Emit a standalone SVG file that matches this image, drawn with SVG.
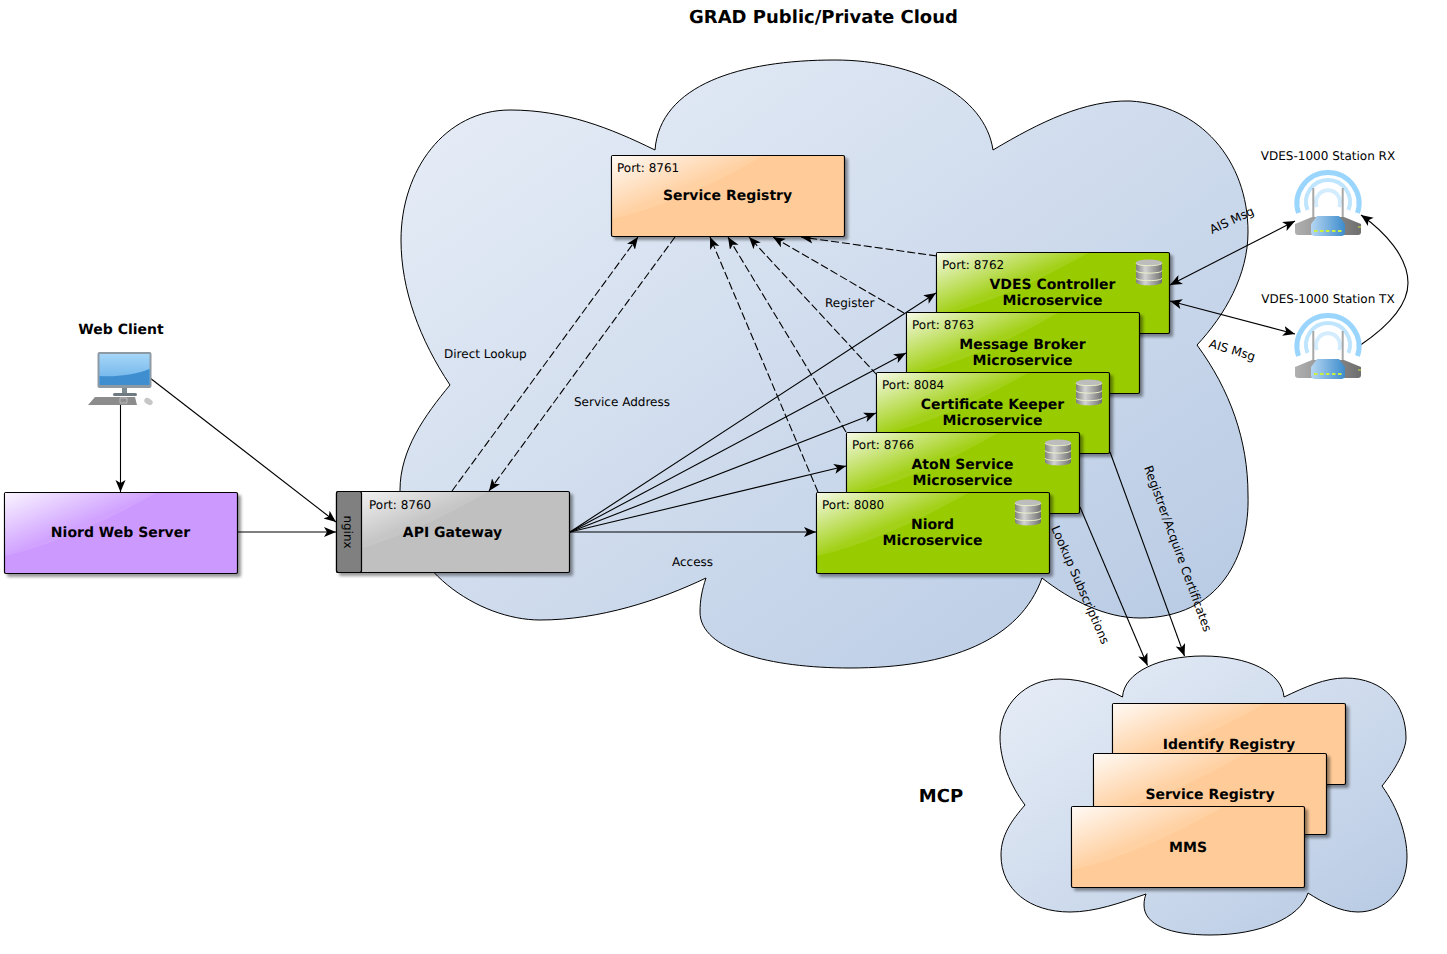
<svg xmlns="http://www.w3.org/2000/svg" width="1447" height="954" viewBox="0 0 1447 954">
<style>
text{font-family:"DejaVu Sans","Liberation Sans",sans-serif;fill:#000;text-rendering:geometricPrecision}
.t{font-size:12px}
.b{font-size:14px;font-weight:bold;text-anchor:middle}
.m{text-anchor:middle}
.box{stroke:#000;stroke-width:1.2}
.cloud{stroke:#000;stroke-width:1;fill:url(#cg)}
.c{fill:none;stroke:#000;stroke-width:1.100;marker-end:url(#a)}
.d{stroke-dasharray:8 3}
.glass{fill:url(#gl)}
</style>
<defs>
<linearGradient id="cg" x1="0" y1="0" x2="1" y2="1"><stop offset="0" stop-color="#e8eef7"/><stop offset="1" stop-color="#b6c9e3"/></linearGradient>
<linearGradient id="gl" x1="0" y1="0" x2="0.5" y2="0.5"><stop offset="0" stop-color="#fff" stop-opacity=".9"/><stop offset="1" stop-color="#fff" stop-opacity=".1"/></linearGradient>
<linearGradient id="dbg" x1="0" y1="0" x2="1" y2="0"><stop offset="0" stop-color="#7f7f7f"/><stop offset=".35" stop-color="#d4d4d4"/><stop offset="1" stop-color="#6f6f6f"/></linearGradient>
<linearGradient id="scr" x1="0" y1="0" x2="0" y2="1"><stop offset="0" stop-color="#a5d6f8"/><stop offset="1" stop-color="#67afe8"/></linearGradient>
<linearGradient id="rb" x1="0" y1="0" x2="1" y2="0"><stop offset="0" stop-color="#b5d6f2"/><stop offset="1" stop-color="#3d8ccc"/></linearGradient>
<linearGradient id="rg" x1="0" y1="0" x2="1" y2="0"><stop offset="0" stop-color="#b0b0b0"/><stop offset="1" stop-color="#6e6e6e"/></linearGradient>
<filter id="sh" x="-5%" y="-5%" width="112%" height="118%"><feDropShadow dx="3" dy="3" stdDeviation="1.600" flood-color="#000" flood-opacity=".4"/></filter>
<marker id="a" markerUnits="userSpaceOnUse" markerWidth="14" markerHeight="12" refX="12" refY="5" orient="auto"><path d="M0,0L12,5L0,10L3,5Z" fill="#000"/></marker>
<marker id="as" markerUnits="userSpaceOnUse" markerWidth="14" markerHeight="12" refX="0" refY="5" orient="auto"><path d="M12,0L0,5L12,10L9,5Z" fill="#000"/></marker>
<g id="db">
<path d="M0,3.500C0,0 26,0 26,3.500V23C26,27.500 0,27.500 0,23Z" fill="url(#dbg)"/>
<ellipse cx="13" cy="3.500" rx="13" ry="3" fill="#bdbdbd"/>
<path d="M0,4C0,7.500 26,7.500 26,4M0,11.500C0,15 26,15 26,11.500M0,19C0,22.500 26,22.500 26,19" fill="none" stroke="#eef2c8" stroke-width="1"/>
</g>
<g id="router">
<path d="M1298.500,213A31,31 0 1 1 1357.500,213" fill="none" stroke="#9ad5fd" stroke-width="5"/>
<path d="M1307.500,210A22,22 0 1 1 1348.500,210" fill="none" stroke="#bfe5fe" stroke-width="4"/>
<path d="M1317,207A12,12 0 1 1 1339,207" fill="none" stroke="#d3edfe" stroke-width="4"/>
<path d="M1313.300,188V220M1342.700,188V220" stroke="#a8a8a8" stroke-width="2" fill="none"/>
<path d="M1295,224L1312,217H1344L1361,224V232Q1361,235 1358,235H1298Q1295,235 1295,232Z" fill="url(#rg)"/>
<path d="M1311,224L1317,216H1339L1345,224V232Q1345,236 1341,236H1315Q1311,236 1311,232Z" fill="url(#rb)"/>
<path d="M1314,231H1343" stroke="#c9f03c" stroke-width="2" stroke-dasharray="3.500 2.500"/>
<path d="M1358,227H1361" stroke="#c9f03c" stroke-width="1"/>
</g>
</defs>
<g id="cloud-main"><path class="cloud" d="M655,150C660,85 740,60 835,60C915,60 985,95 993,150C1040,122 1085,100 1130,101C1200,105 1248,160 1248,232C1248,275 1225,315 1197,345C1230,390 1248,440 1248,495C1250,555 1220,618 1140,618C1105,618 1070,600 1042,578C1020,640 950,668 850,668C770,668 700,650 700,612C700,600 702,590 706,578C660,600 600,620 540,620C480,620 400,570 400,490C400,450 425,415 450,385C420,340 401,290 401,240C401,170 445,110 510,110C565,110 610,128 655,150Z"/></g>
<g id="cloud-mcp"><path class="cloud" d="M1122.500,697C1124,672 1160,656 1203,656C1248,656 1282,672 1284,697C1305,687 1325,678 1345,678C1385,678 1406,705 1406,738C1406,750 1395,770 1382,786C1398,808 1407,835 1407,857C1407,890 1385,912 1358,912C1340,912 1322,902 1308,893C1300,918 1260,935 1210,935C1170,935 1144,925 1144,905C1144,900 1145,897 1146,894C1120,903 1095,912 1070,912C1030,912 1001,890 1001,855C1001,835 1012,820 1025,805C1010,785 1000,760 1000,737C1000,705 1025,679 1060,679C1085,679 1105,688 1122.500,697Z"/></g>
<g id="connectors">
<path class="c" d="M120.500,405V492"/>
<path class="c" d="M150,378L336,522"/>
<path class="c" d="M238,532H336"/>
<path class="c" d="M570,532L936,293"/>
<path class="c" d="M570,532L906,353"/>
<path class="c" d="M570,532L876,413"/>
<path class="c" d="M570,532L846,466"/>
<path class="c" d="M570,532H816"/>
<path class="c d" d="M452,491L638,237"/>
<path class="c d" d="M675,237L489,491"/>
<path class="c d" d="M818,492L710,237"/>
<path class="c d" d="M846,432L728,237"/>
<path class="c d" d="M877,375L749,237"/>
<path class="c d" d="M904,313L773,237"/>
<path class="c d" d="M937,256L801,237"/>
<path class="c" d="M1080,507L1147.500,665.500"/>
<path class="c" d="M1110,452L1184.500,656"/>
<path class="c" style="marker-start:url(#as)" d="M1170,285L1295,221"/>
<path class="c" style="marker-start:url(#as)" d="M1170,301L1295,334"/>
<path class="c" d="M1360.500,345C1390,325 1408,305 1408,283C1408,257 1385,232 1361,215"/>
</g>
<g id="labels">
<text class="t" x="444" y="358">Direct Lookup</text>
<text class="t" x="574" y="406">Service Address</text>
<text class="t" x="825" y="307">Register</text>
<text class="t" x="672" y="566">Access</text>
<text class="t m" transform="translate(1233.500,224) rotate(-25)">AIS Msg</text>
<text class="t m" transform="translate(1231,354) rotate(17)">AIS Msg</text>
<text class="t m" transform="translate(1076.500,586.500) rotate(66.500)">Lookup Subscriptions</text>
<text class="t m" transform="translate(1174,550) rotate(70)">Registrer/Acquire Certificates</text>
<text x="823.500" y="23" style="font-size:18px;font-weight:bold;text-anchor:middle">GRAD Public/Private Cloud</text>
<text x="941" y="802" style="font-size:18px;font-weight:bold;text-anchor:middle">MCP</text>
</g>
<g id="service-registry"><rect class="box" filter="url(#sh)" x="611.500" y="155.500" width="233" height="81" rx="1.500" fill="#ffcc99"/><path class="glass" d="M612,156H763C720,180 670,205 612,219Z"/><text class="t" x="617" y="172">Port: 8761</text><text class="b" x="727.500" y="200">Service Registry</text></g>
<g id="vdes-controller"><rect class="box" filter="url(#sh)" x="936.500" y="252.500" width="233" height="81" rx="1.500" fill="#99cc00"/><path class="glass" d="M937,253H1088C1045,277 995,302 937,316Z"/><text class="t" x="942" y="269">Port: 8762</text><text class="b" x="1052.500" y="289">VDES Controller</text><text class="b" x="1052.500" y="305">Microservice</text><use href="#db" x="1136" y="259"/></g>
<g id="message-broker"><rect class="box" filter="url(#sh)" x="906.500" y="312.500" width="233" height="81" rx="1.500" fill="#99cc00"/><path class="glass" d="M907,313H1058C1015,337 965,362 907,376Z"/><text class="t" x="912" y="329">Port: 8763</text><text class="b" x="1022.500" y="349">Message Broker</text><text class="b" x="1022.500" y="365">Microservice</text></g>
<g id="certificate-keeper"><rect class="box" filter="url(#sh)" x="876.500" y="372.500" width="233" height="81" rx="1.500" fill="#99cc00"/><path class="glass" d="M877,373H1028C985,397 935,422 877,436Z"/><text class="t" x="882" y="389">Port: 8084</text><text class="b" x="992.500" y="409">Certificate Keeper</text><text class="b" x="992.500" y="425">Microservice</text><use href="#db" x="1076" y="379"/></g>
<g id="aton-service"><rect class="box" filter="url(#sh)" x="846.500" y="432.500" width="233" height="81" rx="1.500" fill="#99cc00"/><path class="glass" d="M847,433H998C955,457 905,482 847,496Z"/><text class="t" x="852" y="449">Port: 8766</text><text class="b" x="962.500" y="469">AtoN Service</text><text class="b" x="962.500" y="485">Microservice</text><use href="#db" x="1045" y="439"/></g>
<g id="niord-microservice"><rect class="box" filter="url(#sh)" x="816.500" y="492.500" width="233" height="81" rx="1.500" fill="#99cc00"/><path class="glass" d="M817,493H968C925,517 875,542 817,556Z"/><text class="t" x="822" y="509">Port: 8080</text><text class="b" x="932.500" y="529">Niord</text><text class="b" x="932.500" y="545">Microservice</text><use href="#db" x="1015" y="499"/></g>
<g id="api-gateway"><rect class="box" filter="url(#sh)" x="336.500" y="491.500" width="233" height="81" rx="1.500" fill="#c0c0c0"/><path class="glass" d="M337,492H488C445,516 395,541 337,555Z"/><rect class="box" x="336.500" y="491.500" width="25" height="81" rx="2" fill="#808080"/><text class="t m" transform="translate(344,532) rotate(90)">nginx</text><text class="t" x="369" y="509">Port: 8760</text><text class="b" x="452.500" y="537">API Gateway</text></g>
<g id="niord-web-server"><rect class="box" filter="url(#sh)" x="4.500" y="492.500" width="233" height="81" rx="1.500" fill="#cc99ff"/><path class="glass" d="M5,493H156C113,517 63,542 5,556Z"/><text class="b" x="120.500" y="537">Niord Web Server</text></g>
<g id="web-client"><text class="b" x="121" y="334">Web Client</text>
<rect x="97.500" y="352" width="54" height="36" rx="2" fill="#8d9aa3"/><rect x="99.500" y="354" width="50" height="31" fill="url(#scr)"/>
<path d="M99.500,376C115,377 135,375 149.500,369V385H99.500Z" fill="#3f8fd0"/>
<rect x="122" y="388" width="5" height="6" fill="#7d8a92"/><rect x="113" y="393" width="24" height="3" rx="1.500" fill="#6f7a80"/>
<path d="M88,405L95,397H135L137,405Z" fill="#8c8c8c"/><path d="M120,398H127V403H120Z" fill="none" stroke="#c4c4c4" stroke-width=".8"/><ellipse cx="148.500" cy="401.500" rx="4.500" ry="3" fill="#c6c6c6" transform="rotate(30 148.500 401.500)"/></g>
<g id="vdes-rx"><text class="t m" x="1328" y="160">VDES-1000 Station RX</text><use href="#router"/></g>
<g id="vdes-tx"><text class="t m" x="1328" y="303">VDES-1000 Station TX</text><use href="#router" y="143"/></g>
<g id="identify-registry"><rect class="box" filter="url(#sh)" x="1112.500" y="703.500" width="233" height="81" rx="1.500" fill="#ffcc99"/><path class="glass" d="M1113,704H1264C1221,728 1171,753 1113,767Z"/><text class="b" x="1229" y="749">Identify Registry</text></g>
<g id="mcp-service-registry"><rect class="box" filter="url(#sh)" x="1093.500" y="753.500" width="233" height="81" rx="1.500" fill="#ffcc99"/><path class="glass" d="M1094,754H1245C1202,778 1152,803 1094,817Z"/><text class="b" x="1210" y="799">Service Registry</text></g>
<g id="mms"><rect class="box" filter="url(#sh)" x="1071.500" y="806.500" width="233" height="81" rx="1.500" fill="#ffcc99"/><path class="glass" d="M1072,807H1223C1180,831 1130,856 1072,870Z"/><text class="b" x="1188" y="852">MMS</text></g>
</svg>
